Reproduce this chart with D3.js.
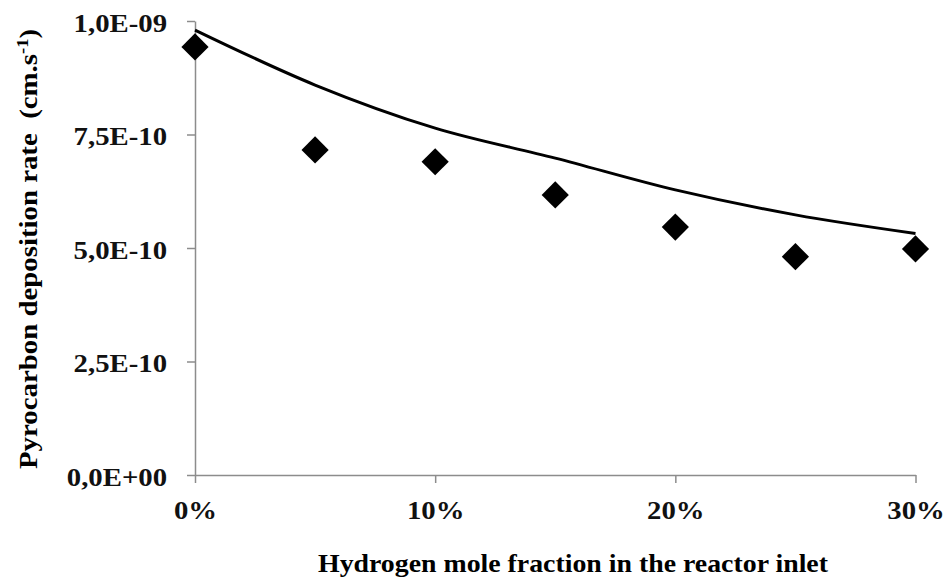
<!DOCTYPE html>
<html>
 <head>
  <title>Pyrocarbon deposition rate</title>
  <style>
  body { margin: 0; background: white; }
  svg { display: block; font-family: "Liberation Serif", "DejaVu Serif", serif; font-weight: bold; }
  .axis path, .axis line { stroke: #8c8c8c; stroke-width: 1.5; }
  .axis text { font-size: 25px; font-family: "Liberation Serif", serif; fill: #111; }
  </style>
  <script src="https://cdnjs.cloudflare.com/ajax/libs/d3/7.8.3/d3.min.js"></script>
 </head>
 <body>
  <script>
   // hydrogen mole fraction (%)
   const fractions = [0, 5, 10, 15, 20, 25, 30];
   // measured rates (cm/s)
   const measured = [9.43e-10, 7.16e-10, 6.90e-10, 6.17e-10, 5.46e-10, 4.81e-10, 4.98e-10];
   // model curve (cm/s)
   const model = [9.80e-10, 8.59e-10, 7.64e-10, 6.98e-10, 6.28e-10, 5.73e-10, 5.32e-10];
   const yTicks = [0, 2.5e-10, 5e-10, 7.5e-10, 1e-9];
   const xTicks = [0, 10, 20, 30];

   const w = 949;
   const h = 585;

   // the original text is a bit wider than the font, stretch it
   function stretch(sel, k) {
    sel.each(function() {
     const len = this.getComputedTextLength();
     d3.select(this)
       .attr("textLength", len * k)
       .attr("lengthAdjust", "spacingAndGlyphs");
    });
   }

   const xScale = d3.scaleLinear()
                    .domain([0, 30])
                    .range([195, 915.5]);
   const yScale = d3.scaleLinear()
                    .domain([0, 1e-9])
                    .range([475, 21]);

   const svg = d3.select("body")
                 .append("svg")
                 .attr("width", w)
                 .attr("height", h);

   const yFmt = d => {
    const s = d3.format(".1e")(d).replace(".", ",").toUpperCase();
    // 1,0E-9 -> 1,0E-09
    return s.replace(/E([+-])(\d)$/, "E$10$2");
   };

   const yAxis = d3.axisLeft(yScale)
                   .tickValues(yTicks)
                   .tickFormat(yFmt)
                   .tickSize(8)
                   .tickSizeOuter(0)
                   .tickPadding(20);
   svg.append("g")
      .attr("class", "axis")
      .attr("transform", "translate(195,0)")
      .call(yAxis)
      .selectAll("text")
      .attr("dy", "0.4em")
      .call(stretch, 1.15);

   const xAxis = d3.axisBottom(xScale)
                   .tickValues(xTicks)
                   .tickFormat(d => d + "%")
                   .tickSize(8)
                   .tickSizeOuter(0)
                   .tickPadding(18);
   svg.append("g")
      .attr("class", "axis")
      .attr("transform", "translate(0,475)")
      .call(xAxis)
      .selectAll("text")
      .call(stretch, 1.15);

   const line = d3.line()
                  .x((d, i) => xScale(fractions[i]))
                  .y(d => yScale(d))
                  .curve(d3.curveMonotoneX);
   svg.append("path")
      .datum(model)
      .attr("d", line)
      .attr("fill", "none")
      .attr("stroke", "black")
      .attr("stroke-width", 3);

   svg.selectAll(".pt")
      .data(measured)
      .enter()
      .append("path")
      .attr("class", "pt")
      .attr("d", d3.symbol(d3.symbolSquare, 370))
      .attr("transform", (d, i) => "translate(" + xScale(fractions[i]) + "," + yScale(d) + ") rotate(45)")
      .attr("fill", "black");

   svg.append("text")
      .attr("x", 573)
      .attr("y", 572)
      .attr("text-anchor", "middle")
      .attr("textLength", 510)
      .attr("lengthAdjust", "spacingAndGlyphs")
      .style("font-size", "25px")
      .text("Hydrogen mole fraction in the reactor inlet");

   const yt = svg.append("text")
                 .attr("transform", "translate(37,249) rotate(-90)")
                 .attr("text-anchor", "middle")
                 .attr("textLength", 440)
                 .attr("lengthAdjust", "spacingAndGlyphs")
                 .style("font-size", "25px")
                 .style("white-space", "pre");
   yt.append("tspan").text("Pyrocarbon deposition rate  (cm.s");
   yt.append("tspan").attr("dy", -9).style("font-size", "16px").text("-1");
   yt.append("tspan").attr("dy", 9).text(")");
  </script>
 </body>
</html>
